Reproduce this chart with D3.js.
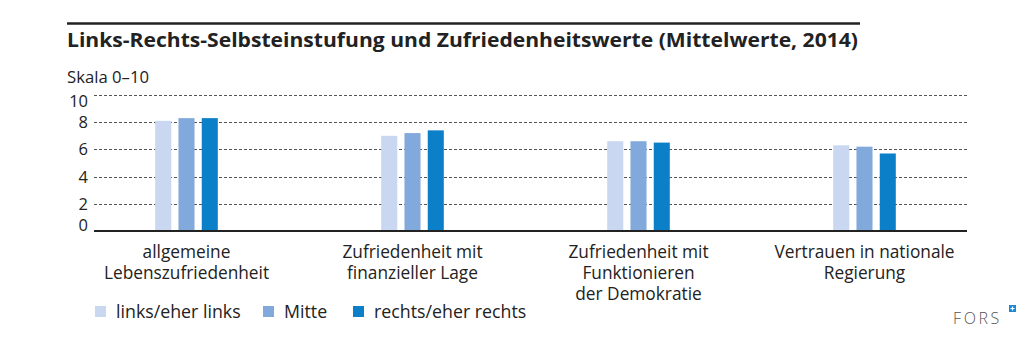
<!DOCTYPE html>
<html lang="de">
<head>
<meta charset="UTF-8" />
<title>Links-Rechts-Selbsteinstufung</title>
<style>
  body { margin: 0; background: #fff; }
  svg { display: block; font-family: "Open Sans", "DejaVu Sans", sans-serif; }
</style>
</head>
<body>
<svg width="1035" height="340" id="svg"></svg>
<script src="https://cdn.jsdelivr.net/npm/d3@7"></script>
<script>
const categories = [
  ["allgemeine", "Lebenszufriedenheit"],
  ["Zufriedenheit mit", "finanzieller Lage"],
  ["Zufriedenheit mit", "Funktionieren", "der Demokratie"],
  ["Vertrauen in nationale", "Regierung"]
]
const seriesNames = ["links/eher links", "Mitte", "rechts/eher rechts"]
const links = [8.1, 7.0, 6.6, 6.3]
const mitte = [8.3, 7.2, 6.6, 6.2]
const rechts = [8.3, 7.4, 6.5, 5.7]
const yTicks = [0, 2, 4, 6, 8, 10]
const colors = ["#c9d8f0", "#82a9dc", "#0b80c8"]

const svg = d3.select("#svg")

// title with rule above
svg.append("line")
  .attr("x1", 67).attr("x2", 860).attr("y1", 23.5).attr("y2", 23.5)
  .attr("stroke", "#222").attr("stroke-width", 2.5)
svg.append("text")
  .attr("x", 67).attr("y", 47)
  .attr("font-size", 19).attr("font-weight", 700).attr("fill", "#222")
  .attr("textLength", 791).attr("lengthAdjust", "spacingAndGlyphs")
  .text("Links-Rechts-Selbsteinstufung und Zufriedenheitswerte (Mittelwerte, 2014)")
svg.append("text")
  .attr("x", 67).attr("y", 83)
  .attr("font-size", 16.7).attr("fill", "#222")
  .text("Skala 0–10")

const x0 = d3.scaleBand()
  .domain(d3.range(categories.length))
  .range([73.5, 977.5])
const x1 = d3.scaleBand()
  .domain(d3.range(seriesNames.length))
  .range([-31.3, 31.3])
  .paddingInner(0.31)
const y = d3.scaleLinear().domain([0, 10]).range([231, 95])

// dashed grid
svg.append("g")
  .selectAll("line")
  .data(yTicks.filter(d => d > 0))
  .join("line")
  .attr("x1", 94).attr("x2", 967)
  .attr("y1", d => Math.round(y(d)) + 0.5).attr("y2", d => Math.round(y(d)) + 0.5)
  .attr("stroke", "#555").attr("stroke-width", 1)
  .attr("stroke-dasharray", "3,2")

svg.append("g")
  .selectAll("text")
  .data(yTicks)
  .join("text")
  .attr("x", 88)
  .attr("y", d => y(d) + (d === 10 ? 6 : d === 0 ? -6 : 0))
  .attr("dy", "0.36em")
  .attr("text-anchor", "end")
  .attr("font-size", 16.5).attr("fill", "#222")
  .text(d => d)

// bars
const series = [links, mitte, rechts]
const groups = svg.append("g")
  .selectAll("g")
  .data(categories.map((c, i) => i))
  .join("g")
  .attr("transform", i => `translate(${x0(i) + x0.bandwidth() / 2},0)`)

groups.selectAll("rect")
  .data(i => series.map((s, k) => ({ k, v: s[i] })))
  .join("rect")
  .attr("x", d => x1(d.k))
  .attr("width", x1.bandwidth())
  .attr("y", d => y(d.v))
  .attr("height", d => y(0) - y(d.v))
  .attr("fill", d => colors[d.k])

// baseline
svg.append("line")
  .attr("x1", 94).attr("x2", 967).attr("y1", 231).attr("y2", 231)
  .attr("stroke", "#222").attr("stroke-width", 2)

// category labels
groups.append("text")
  .attr("text-anchor", "middle")
  .attr("font-size", 17.3).attr("fill", "#222")
  .selectAll("tspan")
  .data(i => categories[i])
  .join("tspan")
  .attr("x", 0)
  .attr("y", (d, j) => 258 + j * 21)
  .text(d => d)

// legend
const legendX = [95, 263, 353]
const legend = svg.append("g")
  .selectAll("g")
  .data(seriesNames)
  .join("g")
  .attr("transform", (d, i) => `translate(${legendX[i]},306)`)
legend.append("rect")
  .attr("width", 11).attr("height", 11)
  .attr("fill", (d, i) => colors[i])
legend.append("text")
  .attr("x", 21).attr("y", 12)
  .attr("font-size", 17.8).attr("fill", "#222")
  .text(d => d)

// FORS mark
svg.append("text")
  .attr("x", 953).attr("y", 324)
  .attr("font-size", 16).attr("font-weight", 300)
  .attr("letter-spacing", 2.6).attr("fill", "#555")
  .text("FORS")
svg.append("rect")
  .attr("x", 1009).attr("y", 305).attr("width", 7).attr("height", 7)
  .attr("fill", "#1a8ad4")
svg.append("path")
  .attr("d", "M1012.5,306.5V310.5M1010.5,308.5H1014.5")
  .attr("stroke", "#fff").attr("stroke-width", 1.2)
</script>
</body>
</html>
